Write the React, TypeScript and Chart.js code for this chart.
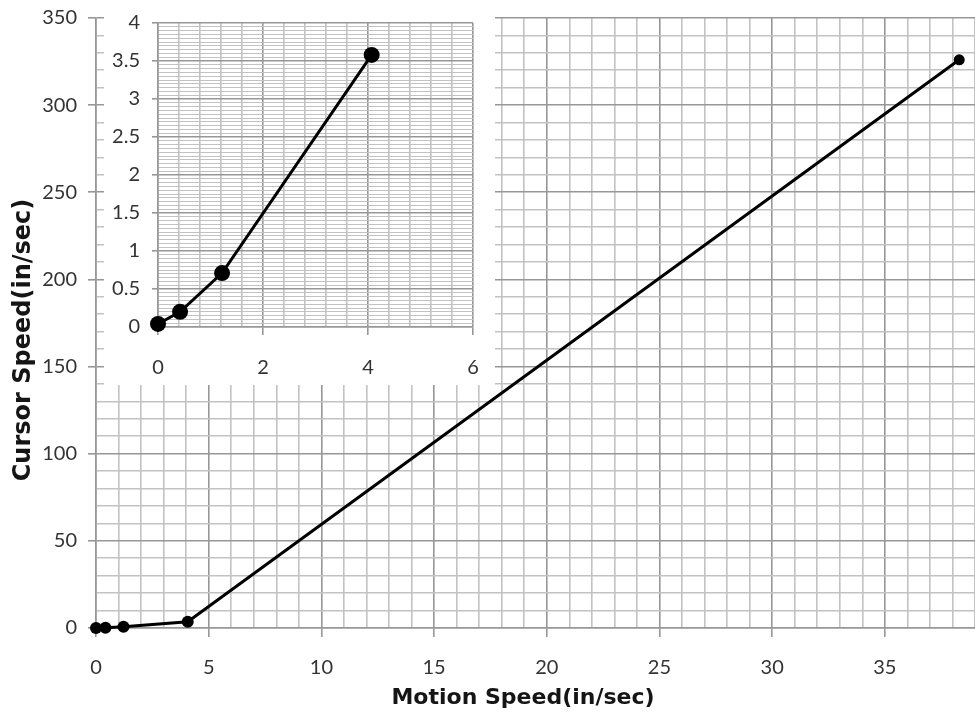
import React, { useEffect, useRef } from "react";
import { Chart, registerables } from "chart.js";

Chart.register(...registerables);

// Measured speeds: hand motion vs. resulting cursor motion (in/sec)
const motionSpeed = [0, 0.42, 1.22, 4.07, 38.3];
const cursorSpeed = [0.04, 0.2, 0.71, 3.58, 326];
// The zoomed panel shows only the low-speed part of the curve
const insetPointCount = 4;

// Labelled (major) ticks
const mainXLabels = [0, 5, 10, 15, 20, 25, 30, 35];
const mainYLabels = [0, 50, 100, 150, 200, 250, 300, 350];
const insetXLabels = [0, 2, 4, 6];
const insetYLabels = [0, 0.5, 1, 1.5, 2, 2.5, 3, 3.5, 4];

const xTitle = "Motion Speed(in/sec)";
const yTitle = "Cursor Speed(in/sec)";

const TICK_FONT = "Lato, 'Liberation Sans', sans-serif";
const TITLE_FONT = "'DejaVu Sans', 'Liberation Sans', sans-serif";
const TICK_TEXT = "#333333";
const TITLE_TEXT = "#151515";
const MAJOR_GRID = "#979797";
const MINOR_GRID = "#c2c2c2";

function gridValues(min: number, max: number, step: number): number[] {
  const n = Math.round((max - min) / step);
  const out: number[] = [];
  for (let i = 0; i <= n; i++) out.push(+(min + i * step).toFixed(4));
  return out;
}

function isMajor(v: number, labels: number[]) {
  return labels.some((l) => Math.abs(l - v) < 1e-6);
}

function makeAxis(cfg: {
  min: number;
  max: number;
  step: number;
  labels: number[];
  size: number;
  horizontal: boolean;
  tickLength: number;
  padding: number;
  minorWidth: number;
}) {
  const { min, max, step, labels } = cfg;
  return {
    type: "linear",
    min,
    max,
    afterBuildTicks: (s: any) => {
      s.ticks = gridValues(min, max, step).map((v) => ({ value: v }));
    },
    afterFit: (s: any) => {
      if (cfg.horizontal) {
        s.height = cfg.size;
        s.paddingLeft = 0;
        s.paddingRight = 0;
      } else {
        s.width = cfg.size;
        s.paddingTop = 0;
        s.paddingBottom = 0;
      }
    },
    ticks: {
      autoSkip: false,
      maxRotation: 0,
      minRotation: 0,
      padding: cfg.padding,
      color: TICK_TEXT,
      font: { family: TICK_FONT, size: 20 },
      callback: (v: number) => (isMajor(v, labels) ? String(+v.toFixed(2)) : ""),
    },
    grid: {
      color: (c: any) => (isMajor(c.tick.value, labels) ? MAJOR_GRID : MINOR_GRID),
      lineWidth: (c: any) => (isMajor(c.tick.value, labels) ? 1.6 : cfg.minorWidth),
      tickLength: cfg.tickLength,
      tickColor: (c: any) => (isMajor(c.tick.value, labels) ? MAJOR_GRID : "rgba(0,0,0,0)"),
      tickWidth: 1.6,
    },
    border: { color: MAJOR_GRID, width: 1.6 },
  };
}

// Axis titles, drawn as bold text at fixed spots beside the axes
const axisTitles = {
  id: "axisTitles",
  afterDraw(chart: any, _args: any, opts: any) {
    const { ctx } = chart;
    for (const t of opts.items) {
      ctx.save();
      ctx.translate(t.x, t.y);
      if (t.vertical) ctx.rotate(-Math.PI / 2);
      ctx.font = `bold ${t.size}px ${TITLE_FONT}`;
      ctx.fillStyle = TITLE_TEXT;
      ctx.textAlign = "center";
      ctx.textBaseline = "middle";
      ctx.fillText(t.text, 0, 0);
      ctx.restore();
    }
  },
};

function toPoints(count: number) {
  return motionSpeed.slice(0, count).map((x, i) => ({ x, y: cursorSpeed[i] }));
}

export default function App() {
  const mainRef = useRef<HTMLCanvasElement>(null);
  const insetRef = useRef<HTMLCanvasElement>(null);

  useEffect(() => {
    const main = new Chart(mainRef.current!, {
      type: "line",
      data: {
        datasets: [
          {
            data: toPoints(motionSpeed.length),
            borderColor: "#000",
            backgroundColor: "#000",
            borderWidth: 3,
            pointRadius: [6, 6, 6, 6, 5.5],
            pointBorderWidth: 0,
            tension: 0,
            clip: false,
          } as any,
        ],
      },
      plugins: [axisTitles],
      options: {
        responsive: false,
        animation: false,
        layout: { autoPadding: false, padding: { top: 18, right: 0, left: 0, bottom: 0 } },
        plugins: {
          legend: { display: false },
          tooltip: { enabled: false },
          axisTitles: {
            items: [
              { text: xTitle, x: 523, y: 698, size: 22, vertical: false },
              { text: yTitle, x: 24, y: 340, size: 24, vertical: true },
            ],
          },
        } as any,
        scales: {
          x: makeAxis({
            min: 0,
            max: 39,
            step: 1,
            labels: mainXLabels,
            size: 89,
            horizontal: true,
            tickLength: 9,
            padding: 19,
            minorWidth: 1.6,
          }),
          y: makeAxis({
            min: 0,
            max: 350,
            step: 10,
            labels: mainYLabels,
            size: 96,
            horizontal: false,
            tickLength: 8,
            padding: 11,
            minorWidth: 1.6,
          }),
        },
      } as any,
    });

    const inset = new Chart(insetRef.current!, {
      type: "line",
      data: {
        datasets: [
          {
            data: toPoints(insetPointCount),
            borderColor: "#000",
            backgroundColor: "#000",
            borderWidth: 3,
            pointRadius: 8,
            pointBorderWidth: 0,
            tension: 0,
            clip: false,
          } as any,
        ],
      },
      options: {
        responsive: false,
        animation: false,
        layout: { autoPadding: false, padding: { top: 23, right: 22, left: 0, bottom: 0 } },
        plugins: { legend: { display: false }, tooltip: { enabled: false } },
        scales: {
          x: makeAxis({
            min: 0,
            max: 6,
            step: 0.4,
            labels: insetXLabels,
            size: 58,
            horizontal: true,
            tickLength: 8,
            padding: 21,
            minorWidth: 1.6,
          }),
          y: makeAxis({
            min: 0,
            max: 4,
            step: 0.05,
            labels: insetYLabels,
            size: 54,
            horizontal: false,
            tickLength: 6,
            padding: 12,
            minorWidth: 1,
          }),
        },
      } as any,
    });

    return () => {
      main.destroy();
      inset.destroy();
    };
  }, []);

  return (
    <div style={{ position: "absolute", left: 0, top: 0, width: 975, height: 717, background: "#fff" }}>
      <canvas ref={mainRef} width={975} height={717} style={{ position: "absolute", left: 0, top: 0 }} />
      <canvas
        ref={insetRef}
        width={391}
        height={385}
        style={{ position: "absolute", left: 104, top: 0, background: "#fff" }}
      />
    </div>
  );
}
